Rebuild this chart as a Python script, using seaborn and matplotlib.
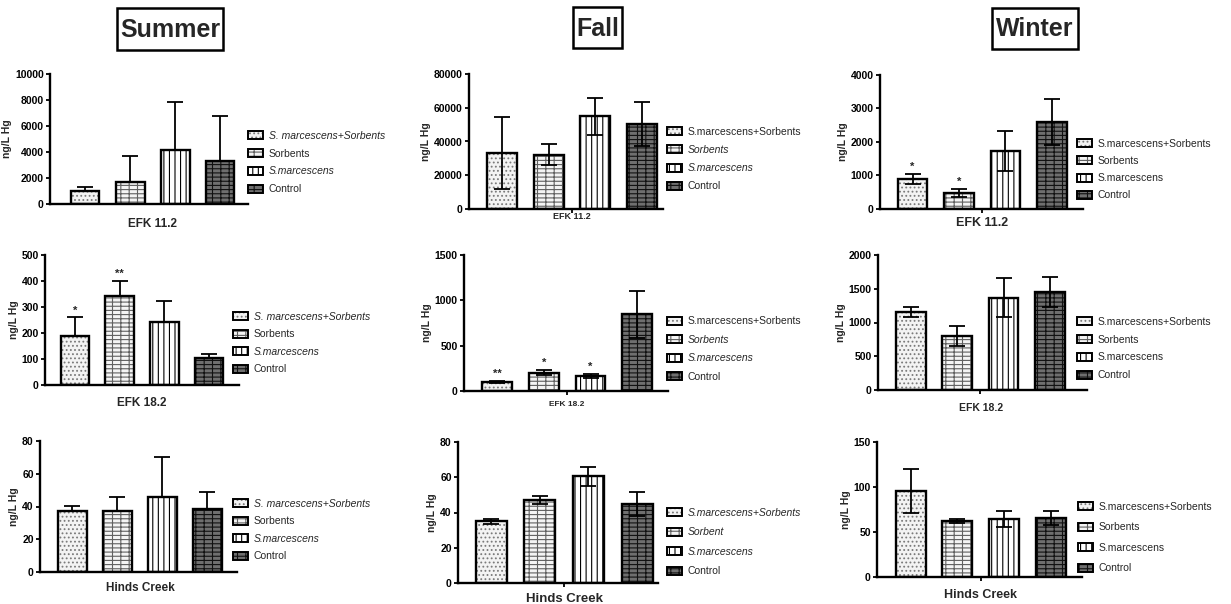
import numpy as np
import pandas as pd
import matplotlib
matplotlib.use("Agg")
import matplotlib.pyplot as plt
import seaborn as sns
from matplotlib.patches import Patch, Rectangle

# ---------------- data ----------------
categories = ["S.marcescens+Sorbents", "Sorbents", "S.marcescens", "Control"]
seasons = ["Summer", "Fall", "Winter"]
sites = ["EFK 11.2", "EFK 18.2", "Hinds Creek"]

summer_efk11_mean = [1000, 1670, 4170, 3330]
summer_efk11_err = [300, 2030, 3690, 3410]
summer_efk18_mean = [189, 344, 241, 103]
summer_efk18_err = [71, 55, 82, 18]
summer_hc_mean = [37.3, 37.1, 45.9, 38.4]
summer_hc_err = [3.1, 8.8, 24.1, 10.4]

fall_efk11_mean = [33400, 32200, 54900, 50400]
fall_efk11_err = [21300, 6400, 10900, 13300]
fall_efk18_mean = [100, 203, 166, 844]
fall_efk18_err = [11, 26, 26, 260]
fall_hc_mean = [35.0, 46.9, 60.5, 44.9]
fall_hc_err = [1.5, 2.2, 5.5, 6.8]

winter_efk11_mean = [890, 480, 1730, 2590]
winter_efk11_err = [150, 130, 610, 680]
winter_efk18_mean = [1160, 800, 1370, 1450]
winter_efk18_err = [75, 150, 295, 222]
winter_hc_mean = [95.2, 61.9, 64.4, 65.6]
winter_hc_err = [24.5, 2.2, 8.8, 7.4]

summer_efk18_stars = ["*", "**", "", ""]
fall_efk18_stars = ["**", "*", "*", ""]
winter_efk11_stars = ["*", "*", "", ""]
no_stars = ["", "", "", ""]

summer_labels = ["S. marcescens+Sorbents", "Sorbents", "S.marcescens", "Control"]
summer_italic = [True, False, True, False]
fall_efk_labels = ["S.marcescens+Sorbents", "Sorbents", "S.marcescens", "Control"]
fall_efk_italic = [False, True, True, False]
fall_hc_labels = ["S.marcescens+Sorbents", "Sorbent", "S.marcescens", "Control"]
fall_hc_italic = [True, True, True, False]
winter_labels = ["S.marcescens+Sorbents", "Sorbents", "S.marcescens", "Control"]
winter_italic = [False, False, False, False]

summer_efk11_ticks = [0, 2000, 4000, 6000, 8000, 10000]
summer_efk18_ticks = [0, 100, 200, 300, 400, 500]
summer_hc_ticks = [0, 20, 40, 60, 80]
fall_efk11_ticks = [0, 20000, 40000, 60000, 80000]
fall_efk18_ticks = [0, 500, 1000, 1500]
fall_hc_ticks = [0, 20, 40, 60, 80]
winter_efk11_ticks = [0, 1000, 2000, 3000, 4000]
winter_efk18_ticks = [0, 500, 1000, 1500, 2000]
winter_hc_ticks = [0, 50, 100, 150]

# ---------------- style ----------------
sns.set_style("ticks")
plt.rcParams['font.family'] = ['Liberation Sans', 'DejaVu Sans']
plt.rcParams['hatch.linewidth'] = 0.8

fills = ['#f3f3f3', '#f4f4f4', 'white', '#6f6f6f']
hatches = ['....', '----||', '|||', '----||']
hatch_cols = ['#7a7a7a', '#606060', 'black', '#111111']

W, H = 1231, 604
fig = plt.figure(figsize=(W / 100, H / 100), dpi=100)
fig.patch.set_facecolor('white')

panels = [
    ("Summer", "EFK 11.2", summer_efk11_mean, summer_efk11_err, no_stars, summer_efk11_ticks, summer_labels, summer_italic,
     50, 248, 74, 204, 0.78, 0.62, (153, 224, 8.5), (248, 162.5, 18.3), False, False),
    ("Summer", "EFK 18.2", summer_efk18_mean, summer_efk18_err, summer_efk18_stars, summer_efk18_ticks, summer_labels, summer_italic,
     45, 239, 255, 385, 0.67, 0.67, (142, 403, 8.5), (233, 343, 18.0), False, False),
    ("Summer", "Hinds Creek", summer_hc_mean, summer_hc_err, no_stars, summer_hc_ticks, summer_labels, summer_italic,
     40, 237, 441, 572, 0.72, 0.66, (140, 588, 8.5), (233, 530, 18.0), False, False),
    ("Fall", "EFK 11.2", fall_efk11_mean, fall_efk11_err, no_stars, fall_efk11_ticks, fall_efk_labels, fall_efk_italic,
     469, 663, 74, 209, 0.71, 0.45, (572, 216, 6.5), (667, 159, 18.7), True, True),
    ("Fall", "EFK 18.2", fall_efk18_mean, fall_efk18_err, fall_efk18_stars, fall_efk18_ticks, fall_efk_labels, fall_efk_italic,
     464, 668, 255, 391, 0.71, 0.66, (567, 405, 6), (667, 349, 18.9), True, True),
    ("Fall", "Hinds Creek", fall_hc_mean, fall_hc_err, no_stars, fall_hc_ticks, fall_hc_labels, fall_hc_italic,
     458, 658, 442, 583, 0.68, 0.43, (565, 599, 9.5), (667, 542, 20.0), True, True),
    ("Winter", "EFK 11.2", winter_efk11_mean, winter_efk11_err, winter_efk11_stars, winter_efk11_ticks, winter_labels, winter_italic,
     880, 1083, 75, 209, 0.70, 0.67, (982, 223, 9), (1077, 169.5, 17.7), True, True),
    ("Winter", "EFK 18.2", winter_efk18_mean, winter_efk18_err, no_stars, winter_efk18_ticks, winter_labels, winter_italic,
     878, 1087, 255, 390, 0.71, 0.80, (981, 408, 7.5), (1077, 348.5, 18.3), True, True),
    ("Winter", "Hinds Creek", winter_hc_mean, winter_hc_err, no_stars, winter_hc_ticks, winter_labels, winter_italic,
     877, 1082, 442, 577, 0.72, 0.67, (980, 595, 9), (1078, 537.5, 21.0), True, True),
]

legend_fs = 7.5
fs_px = legend_fs * 100 / 72

for (season, site, mean, err, stars, ticks, labels, italic, x0, x1, yt, yb, xl, xr,
     xlab, leg, ctick, lower) in panels:
    ax = fig.add_axes([x0 / W, 1 - yb / H, (x1 - x0) / W, (yb - yt) / H])
    df = pd.DataFrame({"cat": categories, "val": mean})
    bw = 0.64
    sns.barplot(data=df, x="cat", y="val", order=categories, width=bw, errorbar=None,
                color="white", linewidth=0, ax=ax, zorder=1)
    for p, fc, hp, hc in zip(ax.patches, fills, hatches, hatch_cols):
        p.set_facecolor(fc)
        p.set_hatch(hp)
        p.set_edgecolor(hc)
        p.set_linewidth(0)
    sns.barplot(data=df, x="cat", y="val", order=categories, width=bw, errorbar=None,
                color="black", fill=False, linewidth=1.7, ax=ax, zorder=3)
    xs = np.arange(len(categories))
    err_arr = np.array(err, dtype=float)
    low = err_arr if lower else np.zeros_like(err_arr)
    ax.errorbar(xs, mean, yerr=[low, err_arr], fmt="none", ecolor="black",
                elinewidth=1.3, capsize=5.5, capthick=1.3, zorder=4)
    ymax = ticks[-1]
    for i, s in enumerate(stars):
        if s:
            ax.text(xs[i], mean[i] + err[i] + ymax * 0.015, s, ha="center", va="bottom",
                    fontsize=8, fontweight="bold")
    ax.set_xlim(-xl, 3 + xr)
    ax.set_ylim(0, ymax)
    ax.set_yticks(ticks)
    ax.set_yticklabels([str(t) for t in ticks], fontweight="bold", fontsize=7.5)
    if ctick:
        ax.set_xticks([1.5])
        ax.set_xticklabels([""])
    else:
        ax.set_xticks([])
    ax.set_xlabel("")
    ax.set_ylabel("ng/L Hg", fontsize=7.5, fontweight="bold", labelpad=2)
    for side in ["top", "right"]:
        ax.spines[side].set_visible(False)
    for side in ["left", "bottom"]:
        ax.spines[side].set_linewidth(1.7)
        ax.spines[side].set_color("black")
    ax.tick_params(axis="both", width=1.3, length=3, pad=1.5, colors="black")
    ax.set_facecolor("white")

    fig.text(xlab[0] / W, 1 - xlab[1] / H, site, ha="center", va="center",
             fontsize=xlab[2], fontweight="bold")

    handles = [(Patch(facecolor=fc, hatch=hp, edgecolor=hc, linewidth=0),
                Patch(facecolor="none", edgecolor="black", linewidth=1.4))
               for fc, hp, hc in zip(fills, hatches, hatch_cols)]
    ls = (leg[2] - fs_px) / fs_px
    lg = ax.legend(handles, labels, loc="center left",
                   bbox_to_anchor=(leg[0] / W, 1 - leg[1] / H), bbox_transform=fig.transFigure,
                   frameon=False, borderpad=0, borderaxespad=0, fontsize=legend_fs,
                   handlelength=1.4, handleheight=0.8, handletextpad=0.6, labelspacing=ls)
    for t, it in zip(lg.get_texts(), italic):
        if it:
            t.set_fontstyle("italic")

# column titles with boxes (pixel boxes: left, top, right, bottom)
titles = [("Summer", 117, 8, 223, 50), ("Fall", 573, 7, 622, 48), ("Winter", 992, 8, 1078, 49)]
for name, bl, bt, br, bb in titles:
    fig.patches.append(Rectangle((bl / W, 1 - bb / H), (br - bl) / W, (bb - bt) / H,
                                 transform=fig.transFigure, fill=True, facecolor="white",
                                 edgecolor="black", linewidth=1.8, zorder=1))
    fig.text((bl + br) / 2 / W, 1 - ((bt + bb) / 2 + 1) / H, name, ha="center", va="center",
             fontsize=18, fontweight="bold", zorder=2)

fig.savefig("out.png", dpi=100, facecolor="white")
